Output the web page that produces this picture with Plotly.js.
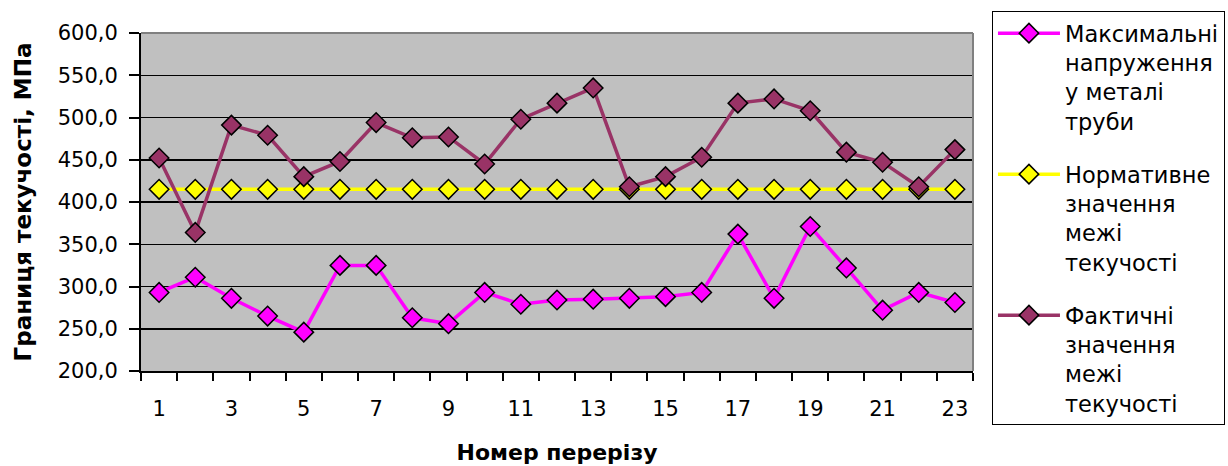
<!DOCTYPE html>
<html>
<head>
<meta charset="utf-8">
<script src="https://cdn.plot.ly/plotly-3.0.1.min.js"></script>
<style>html,body{margin:0;padding:0;background:#fff;}#chart{width:1228px;height:466px;}</style>
</head>
<body>
<div id="chart"></div>
<script>
// Data
const sections = [1,2,3,4,5,6,7,8,9,10,11,12,13,14,15,16,17,18,19,20,21,22,23];
const maxStress = [293,311,286,265,246,325,325,263,256,293,279,284,285,286,288,293,362,286,371,322,272,293,281];
const normYield = [415,415,415,415,415,415,415,415,415,415,415,415,415,415,415,415,415,415,415,415,415,415,415];
const actualYield = [452,364,491,479,430,448,494,476,477,445,498,517,535,418,430,453,517,522,508,459,447,418,462];
const seriesNames = [
  'Максимальні<br>напруження<br>у металі<br>труби',
  'Нормативне<br>значення<br>межі<br>текучості',
  'Фактичні<br>значення<br>межі<br>текучості'
];
const xLabels = ['1','3','5','7','9','11','13','15','17','19','21','23'];
const xLabelVals = [1,3,5,7,9,11,13,15,17,19,21,23];

const FONT = 'DejaVu Sans, Arial, sans-serif';
function mk(y, name, color, group){
  return {
    x: sections, y: y, name: name, type: 'scatter', mode: 'lines+markers',
    legendgroup: group,
    line: {color: color, width: 3.5},
    marker: {symbol: 'diamond', size: 15, color: color, line: {color: '#000', width: 1.5}}
  };
}
const traces = [
  mk(maxStress, seriesNames[0], '#FF00FF', 'a'),
  mk(normYield, seriesNames[1], '#FFFF00', 'b'),
  mk(actualYield, seriesNames[2], '#993366', 'c')
];
const layout = {
  width: 1228, height: 466,
  margin: {l: 141, r: 255, t: 33, b: 95, autoexpand: false},
  paper_bgcolor: '#fff', plot_bgcolor: '#C0C0C0',
  separators: ', ',
  font: {family: FONT, color: '#000', size: 21},
  showlegend: true,
  legend: {
    x: 1.0228, xanchor: 'left', y: 1.065, yanchor: 'top',
    bordercolor: '#000', borderwidth: 1, bgcolor: '#fff',
    font: {family: FONT, size: 22.5, color: '#000'},
    itemwidth: 62, valign: 'top', traceorder: 'grouped', tracegroupgap: 21,
    maxheight: 460
  },
  xaxis: {
    range: [0.5, 23.5], tickmode: 'array', tickvals: xLabelVals, ticktext: xLabels,
    ticks: '', showgrid: false, zeroline: false,
    showline: true, linecolor: '#000', linewidth: 2,
    ticklabelstandoff: 18,
    tickfont: {family: FONT, size: 21},
    minor: {tick0: 0.5, dtick: 1, ticks: 'outside', ticklen: 8, tickcolor: '#000', tickwidth: 2, showgrid: false},
    title: {text: '<b>Номер перерізу</b>', font: {family: FONT, size: 22}, standoff: 24}
  },
  yaxis: {
    range: [200, 600], tick0: 200, dtick: 50, tickformat: '.1f',
    ticks: 'outside', ticklen: 10, tickcolor: '#000', tickwidth: 2,
    ticklabelstandoff: 7,
    showgrid: true, gridcolor: '#000', gridwidth: 1.5, zeroline: false,
    showline: true, linecolor: '#000', linewidth: 2,
    tickfont: {family: FONT, size: 21},
    title: {text: '<b>Границя текучості, МПа</b>', font: {family: FONT, size: 23}, standoff: 20}
  },
  shapes: [
    {type: 'line', xref: 'paper', yref: 'paper', x0: 0, x1: 1, y0: 1, y1: 1, line: {color: '#808080', width: 2}},
    {type: 'line', xref: 'paper', yref: 'paper', x0: 1, x1: 1, y0: 0, y1: 1, line: {color: '#808080', width: 2}}
  ]
};
Plotly.newPlot('chart', traces, layout, {displayModeBar: false, staticPlot: true});
</script>
</body>
</html>
